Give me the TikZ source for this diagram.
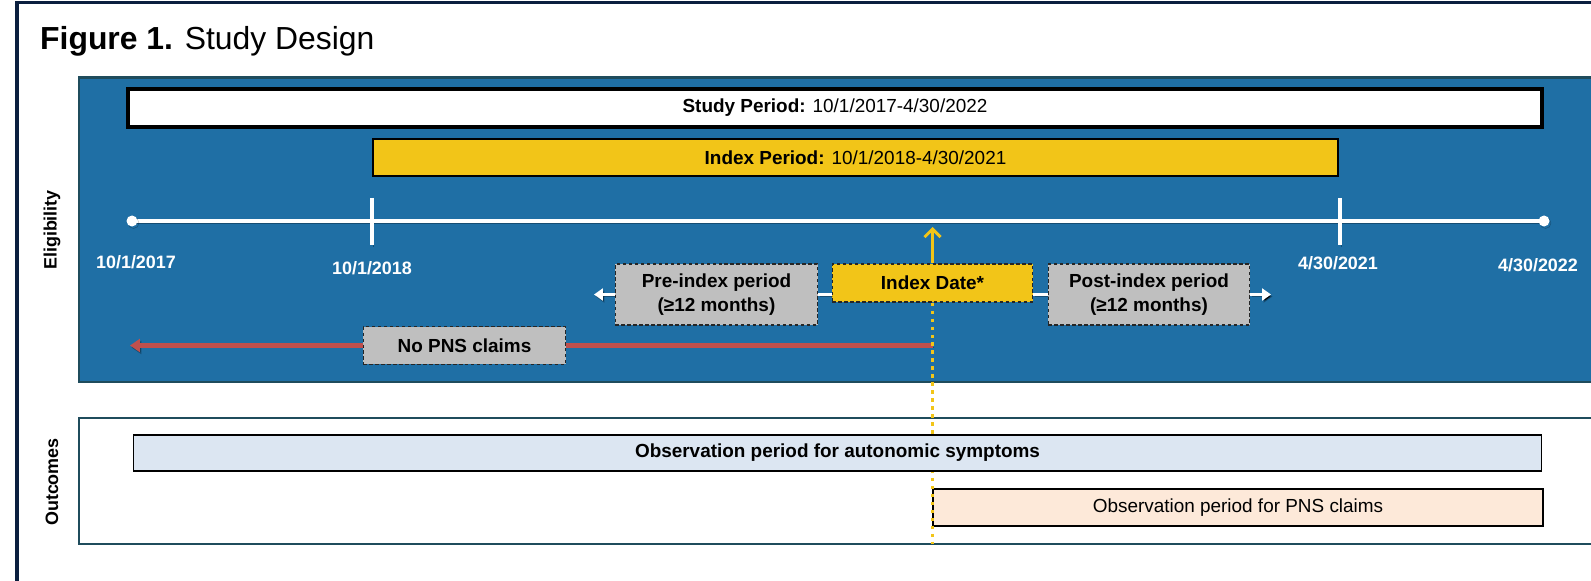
\documentclass[tikz,border=0pt]{standalone}
\usepackage{fontspec}
\setmainfont{Liberation Sans}
\usetikzlibrary{arrows.meta}
\definecolor{navy}{HTML}{0B1F3F}
\definecolor{elblue}{HTML}{1F6FA5}
\definecolor{teal}{HTML}{1F4C5C}
\definecolor{idxyellow}{HTML}{F2C518}
\definecolor{boxgray}{HTML}{BFBFBF}
\definecolor{redline}{HTML}{C0504D}
\definecolor{lightblue}{HTML}{DCE6F2}
\definecolor{peach}{HTML}{FDE9D9}
\tikzset{
  lbl/.style={font=\fontsize{19}{24}\selectfont, inner sep=0pt, align=center},
  datelbl/.style={font=\fontsize{18}{22}\selectfont\bfseries, text=white, inner sep=0pt},
  barbox/.style={lbl, draw=black, minimum height=37},
  graybox/.style={lbl, font=\fontsize{19}{24}\selectfont\bfseries, fill=boxgray, draw=black!85,
     line width=1.4pt, dash pattern=on 3.5pt off 2.5pt},
  shadowed/.style={preaction={draw=black, draw opacity=0.3, transform canvas={shift={(1.5,2)}}}},
  tlline/.style={draw=white, line width=4pt, shadowed},
  tickline/.style={draw=white, line width=3.5pt, shadowed},
  whitearrow/.style={draw=white, line width=3.5pt, shadowed, -{Triangle[length=9pt,width=12pt]}},
  sidelbl/.style={font=\fontsize{18}{22}\selectfont\bfseries, rotate=90, inner sep=0pt},
}
\begin{document}
\begin{tikzpicture}[x=1bp,y=-1bp]
\useasboundingbox (0,0) rectangle (1591,581);
\clip (0,0) rectangle (1591,581);
\fill[white] (0,0) rectangle (1591,581);
% outer frame
\draw[navy, line width=4pt] (17,2.5) rectangle (1700,700);
% title
\node[anchor=base west, inner sep=0pt, font=\fontsize{32}{36}\selectfont] (title) at (40,50) {\textbf{Figure 1.} Study Design};
% panels
\draw[teal, line width=3pt, fill=elblue] (79,77.5) rectangle (1650,382);
\draw[teal, line width=3pt, fill=white] (79,418) rectangle (1650,544);
\coordinate (outbottom) at (79,544);
\node[sidelbl] (elig) at (52,230) {Eligibility};
\node[sidelbl] (outc) at (52,482) {Outcomes};
% period bars
\node[barbox, fill=white, line width=3.5pt, minimum width=1419, minimum height=38] (study) at (835,108)
  {\textbf{Study Period:} 10/1/2017-4/30/2022};
\node[barbox, fill=idxyellow, line width=1.5pt, minimum width=969] (index) at (855.5,157.5)
  {\textbf{Index Period:} 10/1/2018-4/30/2021};
% timeline
\coordinate (t0) at (132,221);
\coordinate (t1) at (1544,221);
\draw[tlline] (t0) -- (t1);
\fill[white, shadowed] (t0) circle (5.5);
\fill[white, shadowed] (t1) circle (5.5);
\coordinate (k1a) at (372,198); \coordinate (k1b) at (372,245);
\coordinate (k2a) at (1340,198); \coordinate (k2b) at (1340,245);
\draw[tickline] (k1a) -- (k1b);
\draw[tickline] (k2a) -- (k2b);
\node[datelbl] (d0) at (136,262) {10/1/2017};
\node[datelbl] (d1) at (372,268) {10/1/2018};
\node[datelbl] (d2) at (1338,263) {4/30/2021};
\node[datelbl] (d3) at (1538,265) {4/30/2022};
% index date row
\node[graybox, minimum width=203, minimum height=61] (pre) at (716.5,294.5) {Pre-index period\\(≥12 months)};
\node[lbl, font=\fontsize{19}{24}\selectfont\bfseries, fill=idxyellow, draw=black!85, line width=1.4pt,
  dash pattern=on 3.5pt off 2.5pt, minimum width=201, minimum height=38] (idx) at (932.5,283) {Index Date*};
\node[graybox, minimum width=202, minimum height=61] (post) at (1149,294.5) {Post-index period\\(≥12 months)};
\coordinate (preend) at (594,294.5);
\coordinate (postend) at (1271,294.5);
\draw[draw=white, line width=3.5pt, shadowed] (pre.east) -- (pre.east -| idx.west);
\draw[draw=white, line width=3.5pt, shadowed] (post.west -| idx.east) -- (post.west);
\draw[whitearrow] (pre.west) -- (preend);
\draw[whitearrow] (post.east) -- (postend);
% index arrow up
\coordinate (uptip) at (932.5,227);
\draw[idxyellow, line width=3pt, -{Straight Barb[length=8pt,width=16pt]}] (idx.north) -- (uptip);
% no PNS claims
\node[graybox, minimum width=203, minimum height=38] (nopns) at (464.5,345.5) {No PNS claims};
\coordinate (redstart) at (932.5,345.5);
\coordinate (redend) at (130,345.5);
\draw[redline, line width=4.5pt, shadowed] (redstart) -- (nopns.east);
\draw[redline, line width=4.5pt, shadowed, -{Triangle[length=10pt,width=13pt]}] (nopns.west) -- (redend);
% outcomes bars
\node[barbox, fill=peach, line width=1.4pt, minimum width=612] (obsB) at (1238,507.5)
  {Observation period for PNS claims};
% dotted index line
\draw[idxyellow, line width=3.5pt, dash pattern=on 3.5pt off 4.5pt] (idx.south) -- (idx.south |- outbottom);
\node[barbox, font=\fontsize{19}{24}\selectfont\bfseries, fill=lightblue, line width=1.4pt, minimum width=1413, minimum height=36] (obsA) at (837.5,453)
  {Observation period for autonomic symptoms};
\end{tikzpicture}
\end{document}
